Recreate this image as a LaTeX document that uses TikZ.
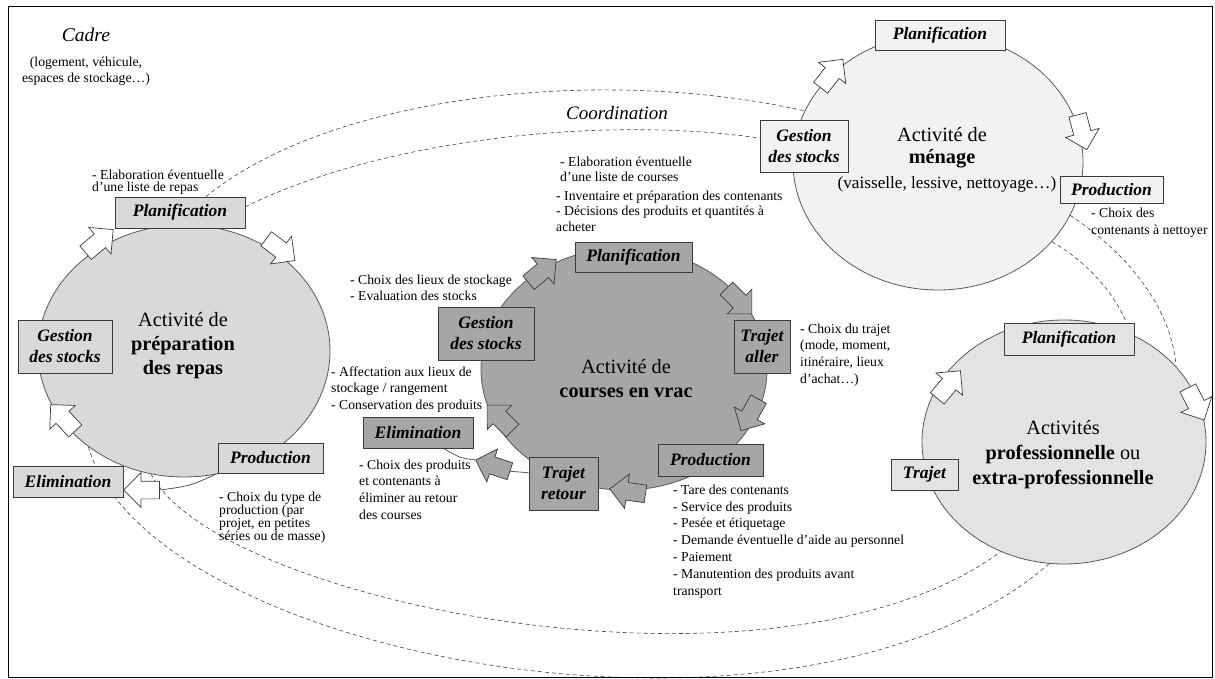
\documentclass[tikz,border=0pt]{standalone}
\usepackage{fontspec}
\setmainfont{Liberation Serif}
\usetikzlibrary{shapes.geometric,shapes.arrows,calc}
\pgfdeclarelayer{behind}
\pgfsetlayers{behind,main}
\definecolor{fillA}{HTML}{D9D9D9}
\definecolor{fillB}{HTML}{A6A6A6}
\definecolor{fillC}{HTML}{F2F2F2}
\definecolor{fillD}{HTML}{E3E3E3}
\definecolor{edgegray}{HTML}{595959}
\definecolor{boxedge}{HTML}{3A3A3A}
\definecolor{dashgray}{HTML}{404040}
\newcommand{\myfs}[2]{\fontsize{#1}{#2}\selectfont}
\newcommand{\firstsmall}{\rule{0pt}{10pt}}
\newcommand{\firstbig}{\rule{0pt}{16pt}}
\begin{document}
\begin{tikzpicture}[x=1pt,y=-1pt,
  activity/.style={ellipse, draw=edgegray, line width=0.8pt, inner sep=0pt},
  stepbox/.style={draw=boxedge, line width=0.8pt, inner sep=0pt, align=center,
    font=\myfs{17.5}{21}\bfseries\itshape},
  flow/.style={single arrow, draw=boxedge, line width=0.7pt, fill=white,
    minimum height=36pt, minimum width=0pt, inner sep=0pt, inner ysep=8.5pt,
    single arrow head extend=8.5pt},
  link/.style={draw=dashgray, line width=0.6pt, dash pattern=on 4pt off 3pt},
  solidlink/.style={draw=edgegray, line width=0.8pt},
  note/.style={inner sep=0pt, anchor=north west, align=left},
  bigtext/.style={inner sep=0pt, anchor=north, align=center},
]
\useasboundingbox (0,0) rectangle (1215,679);
\draw[line width=0.9pt] (8,6) rectangle (1212,677);

% activities
\node[activity, fill=fillA, minimum width=292pt, minimum height=252pt] (prep) at (184,351) {};
\node[activity, fill=fillB, minimum width=286pt, minimum height=242pt] (vrac) at (624,369) {};
\node[activity, fill=fillC, minimum width=290pt, minimum height=256pt] (menage) at (938,162) {};
\node[activity, fill=fillD, minimum width=284pt, minimum height=244pt] (pro) at (1064,442) {};

% circle 1 steps
\node[stepbox, fill=fillA, minimum width=130pt, minimum height=31pt] (p1) at (180,212.5) {Planification};
\node[stepbox, fill=fillA, minimum width=94pt, minimum height=53pt] (g1) at (65,346.5) {Gestion\\des stocks};
\node[stepbox, fill=fillA, minimum width=105pt, minimum height=30pt] (pr1) at (270.5,458) {Production};
\node[stepbox, fill=fillA, minimum width=110pt, minimum height=31pt] (e1) at (68,481.5) {Elimination};

% circle 2 steps
\node[stepbox, fill=fillB, minimum width=117pt, minimum height=30pt] (p2) at (633.5,257) {Planification};
\node[stepbox, fill=fillB, minimum width=56pt, minimum height=53pt] (t2) at (762,346.5) {Trajet\\aller};
\node[stepbox, fill=fillB, minimum width=105pt, minimum height=32pt] (pr2) at (710.5,460) {Production};
\node[stepbox, fill=fillB, minimum width=69pt, minimum height=53pt] (r2) at (563.5,483.5) {Trajet\\retour};
\node[stepbox, fill=fillB, minimum width=110pt, minimum height=31pt] (e2) at (418,432.5) {Elimination};
\node[stepbox, fill=fillB, minimum width=96pt, minimum height=53pt] (g2) at (486,333.5) {Gestion\\des stocks};

% circle 3 steps
\node[stepbox, fill=fillC, minimum width=130pt, minimum height=30pt] (p3) at (940,35) {Planification};
\node[stepbox, fill=fillC, minimum width=88pt, minimum height=52pt] (g3) at (804,146) {Gestion\\des stocks};
\node[stepbox, fill=fillC, minimum width=103pt, minimum height=27pt] (pr3) at (1111.5,189.5) {Production};

% circle 4 steps
\node[stepbox, fill=fillD, minimum width=130pt, minimum height=32pt] (p4) at (1069,339) {Planification};
\node[stepbox, fill=fillD, minimum width=67pt, minimum height=31pt] (tr4) at (924.5,474.5) {Trajet};

% block arrows
\node[flow, rotate=40] (a1) at (96,244) {};
\node[flow, rotate=-37] (a2) at (277,247) {};
\node[flow, rotate=133] (a3) at (66,421) {};
\node[flow, rotate=180] (a4) at (146,490) {};
\node[flow, fill=fillB, rotate=40] (b1) at (539,274) {};
\node[flow, fill=fillB, rotate=-45] (b2) at (736,298) {};
\node[flow, fill=fillB, rotate=-119] (b3) at (752,411) {};
\node[flow, fill=fillB, rotate=172] (b4) at (632,492) {};
\node[flow, fill=fillB, rotate=162] (b5) at (497,467) {};
\node[flow, fill=fillB, rotate=135] (b6) at (503,421) {};
\node[flow, rotate=52] (c1) at (829,77) {};
\node[flow, rotate=-75] (c2) at (1081,128) {};
\node[flow, rotate=50] (d1) at (946,388) {};
\node[flow, rotate=-63] (d2) at (1194,400) {};

% activity labels
\node[bigtext, font=\myfs{20.3}{24}] (l1) at (183,310) {\firstbig Activité de\\\textbf{préparation}\\\textbf{des repas}};
\node[bigtext, font=\myfs{20.3}{24}] (l2) at (626,357) {\firstbig Activité de\\\textbf{courses en vrac}};
\node[bigtext, font=\myfs{20.3}{22}] (l3) at (942,125) {\firstbig Activité de\\\textbf{ménage}};
\node[anchor=base, inner sep=0pt, font=\myfs{17.2}{20}] (l3b) at (947,188.5) {(vaisselle, lessive, nettoyage…)};
\node[bigtext, font=\myfs{20.3}{25}] (l4) at (1063,418) {\firstbig Activités\\\textbf{professionnelle} ou\\\textbf{extra-professionnelle}};

% frame labels
\node[anchor=base, inner sep=0pt, font=\myfs{19.5}{23}\itshape] (cadre) at (86,41.5) {Cadre};
\node[bigtext, font=\myfs{13.7}{16}] (cadre2) at (86,56) {\firstsmall(logement, véhicule,\\espaces de stockage…)};
\node[anchor=base, inner sep=0pt, font=\myfs{19}{23}\itshape] (coord) at (617,119.5) {Coordination};

% notes
\node[note, font=\myfs{13.7}{12.8}] (n1) at (92,169) {\firstsmall- Elaboration éventuelle\\d’une liste de repas};
\node[note, font=\myfs{13.7}{13.2}] (n2) at (219,491) {\firstsmall- Choix du type de\\production (par\\projet, en petites\\séries ou de masse)};
\node[note, font=\myfs{13.7}{15}] (n3) at (560,156) {\firstsmall- Elaboration éventuelle\\d’une liste de courses};
\node[note, font=\myfs{13.7}{15.5}] (n3b) at (556,190) {\firstsmall- Inventaire et préparation des contenants\\- Décisions des produits et quantités à\\acheter};
\node[note, font=\myfs{13.7}{16}] (n4) at (350,274) {\firstsmall- Choix des lieux de stockage\\- Evaluation des stocks};
\node[note, font=\myfs{13.7}{16.7}] (n5) at (331,366) {\firstsmall- Affectation aux lieux de\\stockage / rangement\\- Conservation des produits};
\node[note, font=\myfs{13.7}{16.7}] (n6) at (359,459) {\firstsmall- Choix des produits\\et contenants à\\éliminer au retour\\des courses};
\node[note, font=\myfs{13.7}{16.7}] (n7) at (800,323) {\firstsmall- Choix du trajet\\(mode, moment,\\itinéraire, lieux\\d’achat…)};
\node[note, font=\myfs{13.7}{16.8}] (n8) at (673,484) {\firstsmall- Tare des contenants\\- Service des produits\\- Pesée et étiquetage\\- Demande éventuelle d’aide au personnel\\- Paiement\\- Manutention des produits avant\\transport};
\node[note, font=\myfs{13.7}{17}] (n9) at (1091,207) {\firstsmall- Choix des\\contenants à nettoyer};

% connectors
\begin{pgfonlayer}{behind}
\coordinate (p1top) at ($(p1.north west)!0.7!(p1.north east)$);
\coordinate (p1right) at ($(p1.north east)!0.32!(p1.south east)$);
\coordinate (g3left) at ($(g3.north west)!0.35!(g3.south west)$);
\coordinate (p4top) at ($(p4.north west)!0.94!(p4.north east)$);
\coordinate (r2left) at ($(r2.north west)!0.3!(r2.south west)$);
\coordinate (e2bottom) at ($(e2.south west)!0.73!(e2.south east)$);
\draw[link] (p1top) .. controls (330,95) and (600,65) .. (menage.159);
\draw[link] (p1right) .. controls (380,140) and (600,115) .. (g3left);
\draw[link] (prep.-105) .. controls (220,605) and (780,715) .. (pro.-120);
\draw[link] (prep.-135.6) .. controls (150,660) and (800,780) .. (pro.-97);
\draw[link] (menage.-22.5) .. controls (1130,255) and (1172,310) .. (pro.34.5);
\draw[link] (menage.-35) .. controls (1080,258) and (1110,285) .. (p4top);
\draw[solidlink] (a4.tail) .. controls (190,486) .. (pr1.south west);
\draw[solidlink] (b5.tail) -- (r2left);
\draw[solidlink] (b5.tip) .. controls (460,458) .. (e2bottom);
\end{pgfonlayer}
\end{tikzpicture}
\end{document}
